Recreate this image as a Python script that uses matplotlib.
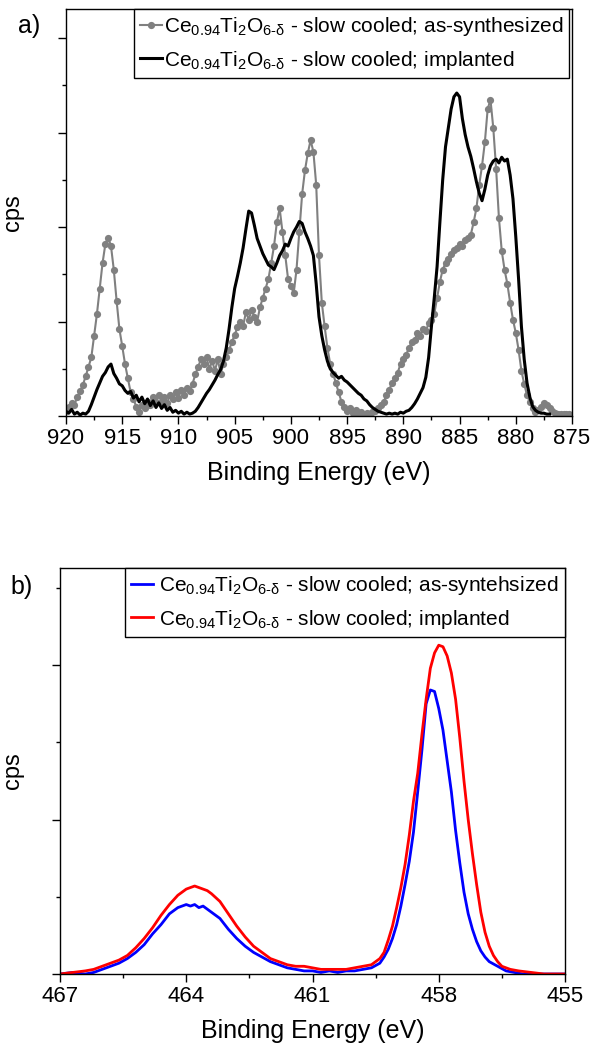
import numpy as np
import matplotlib
matplotlib.use("Agg")
import matplotlib.pyplot as plt
from matplotlib.ticker import MultipleLocator, FixedLocator, NullFormatter

plt.rcParams['font.family'] = ['Liberation Sans', 'DejaVu Sans']
plt.rcParams['mathtext.fontset'] = 'custom'
plt.rcParams['mathtext.rm'] = 'Liberation Sans'
plt.rcParams['mathtext.it'] = 'Liberation Sans:italic'
plt.rcParams['mathtext.bf'] = 'Liberation Sans:bold'

# ---- panel a: Ce 3d, energy grid starts at 920 eV, 0.25 eV step ----
ce_start = 920.0
ce_step = 0.25
ce_as_synth = [
    0.05, 0.10, 0.14, 0.12, 0.20, 0.26, 0.33, 0.42, 0.52, 0.62,
    0.85, 1.08, 1.35, 1.62, 1.82, 1.89, 1.80, 1.55, 1.22, 0.92,
    0.74, 0.55, 0.40, 0.25, 0.18, 0.10, 0.04, 0.12, 0.08, 0.15,
    0.12, 0.20, 0.15, 0.22, 0.16, 0.20, 0.14, 0.22, 0.18, 0.25,
    0.19, 0.28, 0.22, 0.30, 0.26, 0.34, 0.44, 0.52, 0.60, 0.55,
    0.62, 0.50, 0.58, 0.48, 0.60, 0.45, 0.55, 0.62, 0.70, 0.78,
    0.86, 0.94, 1.00, 0.95, 1.10, 1.02, 1.12, 1.05, 1.00, 1.15,
    1.25, 1.35, 1.45, 1.62, 1.80, 2.05, 2.20, 1.95, 1.70, 1.45,
    1.38, 1.30, 1.55, 1.95, 2.35, 2.60, 2.78, 2.92, 2.80, 2.45,
    1.70, 1.20, 0.95, 0.72, 0.55, 0.45, 0.35, 0.25, 0.15, 0.10,
    0.05, 0.08, 0.03, 0.06, 0.02, 0.04, 0.01, 0.03, 0.02, 0.04,
    0.05, 0.08, 0.12, 0.15, 0.22, 0.28, 0.35, 0.40, 0.46, 0.55,
    0.60, 0.65, 0.72, 0.78, 0.80, 0.88, 0.85, 0.92, 0.90, 0.98,
    1.02, 1.08, 1.25, 1.42, 1.55, 1.62, 1.66, 1.72, 1.76, 1.78,
    1.82, 1.80, 1.86, 1.88, 1.92, 2.05, 2.20, 2.45, 2.65, 2.90,
    3.25, 3.35, 3.05, 2.62, 2.10, 1.75, 1.55, 1.40, 1.20, 1.02,
    0.88, 0.70, 0.48, 0.34, 0.22, 0.15, 0.08, 0.04, 0.06, 0.10,
    0.14, 0.12, 0.08, 0.05, 0.03, 0.02, 0.02, 0.02, 0.02, 0.02,
]
ce_implanted = [
    0.05, 0.03, 0.07, 0.02, 0.04, 0.01, 0.03, 0.02, 0.05, 0.12,
    0.20, 0.28, 0.35, 0.42, 0.46, 0.52, 0.55, 0.45, 0.40, 0.34,
    0.32, 0.27, 0.24, 0.26, 0.19, 0.22, 0.15, 0.20, 0.13, 0.18,
    0.11, 0.16, 0.09, 0.14, 0.08, 0.12, 0.06, 0.09, 0.04, 0.06,
    0.03, 0.05, 0.02, 0.04, 0.02, 0.03, 0.05, 0.09, 0.14, 0.19,
    0.24, 0.28, 0.33, 0.38, 0.44, 0.49, 0.58, 0.72, 0.92, 1.15,
    1.35, 1.48, 1.62, 1.78, 1.98, 2.17, 2.15, 2.02, 1.88, 1.80,
    1.72, 1.66, 1.60, 1.58, 1.55, 1.62, 1.70, 1.75, 1.82, 1.80,
    1.88, 1.95, 2.00, 2.06, 2.04, 1.95, 1.88, 1.80, 1.70, 1.40,
    1.05, 0.85, 0.70, 0.58, 0.50, 0.46, 0.43, 0.40, 0.42, 0.38,
    0.36, 0.33, 0.30, 0.27, 0.24, 0.22, 0.18, 0.16, 0.12, 0.09,
    0.07, 0.05, 0.04, 0.03, 0.02, 0.03, 0.02, 0.03, 0.02, 0.04,
    0.03, 0.05, 0.06, 0.09, 0.13, 0.18, 0.24, 0.30, 0.41, 0.62,
    0.95, 1.25, 1.58, 2.05, 2.50, 2.85, 3.05, 3.25, 3.38, 3.42,
    3.38, 3.15, 2.98, 2.85, 2.75, 2.62, 2.48, 2.36, 2.28, 2.40,
    2.55, 2.65, 2.70, 2.72, 2.68, 2.74, 2.70, 2.72, 2.55, 2.30,
    1.90, 1.45, 0.95, 0.60, 0.35, 0.20, 0.10, 0.06, 0.04, 0.03,
    0.03, 0.02, 0.02,
]

# ---- panel b: Ti 2p ----
ti_as_synth_e = [467.0, 466.7, 466.4, 466.2, 466.0, 465.8, 465.6, 465.4, 465.2, 465.0,
                 464.8, 464.6, 464.4, 464.2, 464.0, 463.9, 463.8, 463.7, 463.6, 463.5,
                 463.4, 463.2, 463.0, 462.8, 462.6, 462.4, 462.2, 462.0, 461.8, 461.6,
                 461.4, 461.2, 461.0, 460.8, 460.6, 460.4, 460.2, 460.0, 459.8, 459.6,
                 459.4, 459.3, 459.2, 459.1, 459.0, 458.9, 458.8, 458.7, 458.6, 458.5,
                 458.4, 458.3, 458.2, 458.1, 458.0, 457.9, 457.8, 457.7, 457.6, 457.5,
                 457.4, 457.3, 457.2, 457.1, 457.0, 456.9, 456.8, 456.6, 456.4, 456.2,
                 456.0, 455.5, 455.0]
ti_as_synth = [0.00, 0.01, 0.00, 0.01, 0.03, 0.05, 0.07, 0.10, 0.14, 0.19,
               0.26, 0.32, 0.39, 0.43, 0.45, 0.44, 0.45, 0.43, 0.44, 0.42,
               0.40, 0.36, 0.29, 0.23, 0.18, 0.14, 0.11, 0.08, 0.06, 0.04,
               0.03, 0.02, 0.02, 0.01, 0.02, 0.01, 0.02, 0.02, 0.03, 0.04,
               0.07, 0.11, 0.16, 0.23, 0.32, 0.44, 0.58, 0.73, 0.92, 1.18,
               1.45, 1.75, 1.84, 1.83, 1.72, 1.58, 1.38, 1.18, 0.93, 0.72,
               0.53, 0.39, 0.29, 0.21, 0.15, 0.11, 0.08, 0.05, 0.02, 0.01,
               0.00, 0.00, 0.00]
ti_implanted_e = [467.0, 466.7, 466.4, 466.2, 466.0, 465.8, 465.6, 465.4, 465.2, 465.0,
                  464.8, 464.6, 464.4, 464.2, 464.0, 463.9, 463.8, 463.7, 463.6, 463.5,
                  463.4, 463.2, 463.0, 462.8, 462.6, 462.4, 462.2, 462.0, 461.8, 461.6,
                  461.4, 461.2, 461.0, 460.8, 460.6, 460.4, 460.2, 460.0, 459.8, 459.6,
                  459.4, 459.3, 459.2, 459.1, 459.0, 458.9, 458.8, 458.7, 458.6, 458.5,
                  458.4, 458.3, 458.2, 458.1, 458.0, 457.9, 457.8, 457.7, 457.6, 457.5,
                  457.4, 457.3, 457.2, 457.1, 457.0, 456.9, 456.8, 456.7, 456.6, 456.5,
                  456.3, 456.1, 455.8, 455.5, 455.0]
ti_implanted = [0.00, 0.01, 0.02, 0.03, 0.05, 0.07, 0.09, 0.12, 0.17, 0.23,
                0.30, 0.38, 0.45, 0.51, 0.55, 0.56, 0.57, 0.56, 0.55, 0.54,
                0.52, 0.47, 0.39, 0.31, 0.24, 0.18, 0.14, 0.10, 0.08, 0.06,
                0.05, 0.05, 0.04, 0.03, 0.03, 0.03, 0.03, 0.04, 0.05, 0.06,
                0.10, 0.14, 0.22, 0.31, 0.43, 0.56, 0.71, 0.90, 1.12, 1.30,
                1.55, 1.78, 1.98, 2.08, 2.13, 2.12, 2.06, 1.95, 1.78, 1.53,
                1.25, 1.00, 0.78, 0.58, 0.40, 0.27, 0.18, 0.12, 0.08, 0.05,
                0.03, 0.02, 0.01, 0.00, 0.00]

ce_ticks = [920, 915, 910, 905, 900, 895, 890, 885, 880, 875]
ti_ticks = [467, 464, 461, 458, 455]

label_a1 = r'Ce$_{0.94}$Ti$_{2}$O$_{\mathrm{6‐δ}}$ - slow cooled; as-synthesized'
label_a2 = r'Ce$_{0.94}$Ti$_{2}$O$_{\mathrm{6‐δ}}$ - slow cooled; implanted'
label_b1 = r'Ce$_{0.94}$Ti$_{2}$O$_{\mathrm{6‐δ}}$ - slow cooled; as-syntehsized'
label_b2 = r'Ce$_{0.94}$Ti$_{2}$O$_{\mathrm{6‐δ}}$ - slow cooled; implanted'

W, H = 598, 1059
fig = plt.figure(figsize=(W / 100, H / 100), dpi=100)


def px_axes(l, t, r, b):
    return fig.add_axes([l / W, 1 - b / H, (r - l) / W, (b - t) / H])


def style(ax, xticks, ymaj):
    for s in ax.spines.values():
        s.set_linewidth(1.0)
    step = xticks[1] - xticks[0]
    ax.xaxis.set_major_locator(FixedLocator(xticks))
    ax.xaxis.set_minor_locator(FixedLocator([t + step / 2 for t in xticks[:-1]]))
    ax.yaxis.set_major_locator(MultipleLocator(ymaj))
    ax.yaxis.set_minor_locator(MultipleLocator(ymaj / 2))
    ax.yaxis.set_major_formatter(NullFormatter())
    ax.tick_params(which='both', direction='out', top=False, right=False, width=1.0)
    ax.tick_params(which='major', length=5.5, labelsize=16, pad=3.5)
    ax.tick_params(which='minor', length=3)
    ax.set_xlabel('Binding Energy (eV)', fontsize=18, labelpad=8)


leg_kw = dict(loc='upper right', borderaxespad=0, fontsize=15, fancybox=False,
              framealpha=1, edgecolor='black', handlelength=1.05,
              borderpad=0.3, labelspacing=0.5)

# panel a
ax1 = px_axes(66, 9, 572, 416)
ce_e1 = ce_start - ce_step * np.arange(len(ce_as_synth))
ce_e2 = ce_start - ce_step * np.arange(len(ce_implanted))
ax1.plot(ce_e1, ce_as_synth, color='#808080', lw=1.5, marker='o', ms=5.2,
         mew=0, label=label_a1)
ax1.plot(ce_e2, ce_implanted, color='black', lw=2.2, label=label_a2)
ax1.set_xlim(920, 875)
ax1.set_ylim(0, 4.31)
style(ax1, ce_ticks, 1.0)
ax1.set_ylabel('cps', fontsize=17, labelpad=21)
ax1.legend(bbox_to_anchor=(0.995, 1.0), handletextpad=0.1, **leg_kw)
fig.text(18 / W, 1 - 33 / H, 'a)', fontsize=18)

# panel b
ax2 = px_axes(60, 568, 565, 974)
ax2.plot(ti_as_synth_e, ti_as_synth, color='#0000ff', lw=2.0, label=label_b1)
ax2.plot(ti_implanted_e, ti_implanted, color='#ff0000', lw=2.0, label=label_b2)
ax2.set_xlim(467, 455)
ax2.set_ylim(0, 2.63)
style(ax2, ti_ticks, 1.0)
ax2.set_ylabel('cps', fontsize=17, labelpad=17)
ax2.legend(bbox_to_anchor=(1.0, 1.0), handletextpad=0.3, **leg_kw)
fig.text(10 / W, 1 - 594 / H, 'b)', fontsize=18)

fig.savefig('out.png', dpi=100)
